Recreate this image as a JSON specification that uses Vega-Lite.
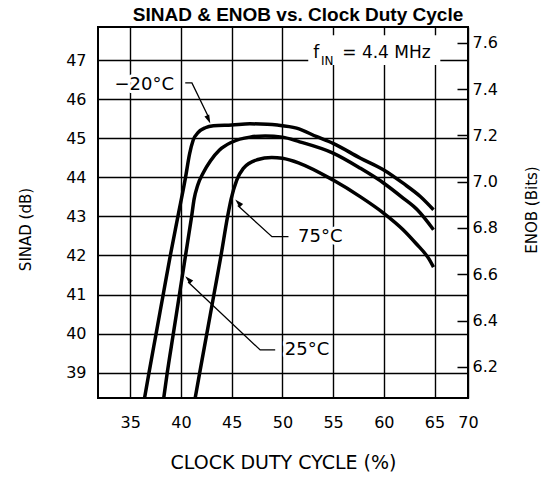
{
  "$schema": "https://vega.github.io/schema/vega-lite/v6.json",
  "width": 370,
  "height": 371,
  "autosize": {"type": "none"},
  "padding": {"left": 98, "top": 27, "right": 77, "bottom": 83},
  "title": {"text": "SINAD & ENOB vs. Clock Duty Cycle", "font": "Liberation Sans", "fontSize": 19, "fontWeight": "bold", "anchor": "middle", "frame": "group", "baseline": "alphabetic", "offset": -13, "dx": 15, "color": "black"},
  "config": {
    "view": {"stroke": "black", "strokeWidth": 2},
    "axis": {"labelFont": "DejaVu Sans", "titleFont": "DejaVu Sans", "labelColor": "black", "titleColor": "black", "titleFontWeight": "normal", "gridColor": "black", "gridWidth": 1.4, "gridOpacity": 1, "domain": false}
  },
  "datasets": {
    "curves": [
      {"temp": "-20", "duty": 36.41, "sinad": 38.35}, {"temp": "-20", "duty": 36.85, "sinad": 39.0}, {"temp": "-20", "duty": 37.55, "sinad": 40.0}, {"temp": "-20", "duty": 38.25, "sinad": 41.0}, {"temp": "-20", "duty": 38.95, "sinad": 42.0}, {"temp": "-20", "duty": 39.7, "sinad": 43.0}, {"temp": "-20", "duty": 40.45, "sinad": 44.0}, {"temp": "-20", "duty": 40.85, "sinad": 44.6}, {"temp": "-20", "duty": 41.2, "sinad": 44.95}, {"temp": "-20", "duty": 41.7, "sinad": 45.15}, {"temp": "-20", "duty": 42.4, "sinad": 45.27}, {"temp": "-20", "duty": 43.2, "sinad": 45.32}, {"temp": "-20", "duty": 45.0, "sinad": 45.34}, {"temp": "-20", "duty": 46.8, "sinad": 45.37}, {"temp": "-20", "duty": 48.5, "sinad": 45.36}, {"temp": "-20", "duty": 49.5, "sinad": 45.34}, {"temp": "-20", "duty": 51.4, "sinad": 45.26}, {"temp": "-20", "duty": 53.4, "sinad": 45.04}, {"temp": "-20", "duty": 55.0, "sinad": 44.87}, {"temp": "-20", "duty": 57.7, "sinad": 44.49}, {"temp": "-20", "duty": 60.0, "sinad": 44.19}, {"temp": "-20", "duty": 61.9, "sinad": 43.85}, {"temp": "-20", "duty": 63.6, "sinad": 43.51}, {"temp": "-20", "duty": 64.9, "sinad": 43.17},
      {"temp": "25", "duty": 38.3, "sinad": 38.35}, {"temp": "25", "duty": 38.65, "sinad": 39.0}, {"temp": "25", "duty": 39.25, "sinad": 40.0}, {"temp": "25", "duty": 39.85, "sinad": 41.0}, {"temp": "25", "duty": 40.45, "sinad": 42.0}, {"temp": "25", "duty": 41.05, "sinad": 43.0}, {"temp": "25", "duty": 41.3, "sinad": 43.45}, {"temp": "25", "duty": 41.65, "sinad": 43.8}, {"temp": "25", "duty": 42.2, "sinad": 44.12}, {"temp": "25", "duty": 42.9, "sinad": 44.42}, {"temp": "25", "duty": 43.8, "sinad": 44.7}, {"temp": "25", "duty": 45.0, "sinad": 44.9}, {"temp": "25", "duty": 46.8, "sinad": 45.03}, {"temp": "25", "duty": 48.3, "sinad": 45.06}, {"temp": "25", "duty": 50.0, "sinad": 45.03}, {"temp": "25", "duty": 51.7, "sinad": 44.91}, {"temp": "25", "duty": 55.0, "sinad": 44.62}, {"temp": "25", "duty": 57.7, "sinad": 44.23}, {"temp": "25", "duty": 60.0, "sinad": 43.85}, {"temp": "25", "duty": 61.9, "sinad": 43.47}, {"temp": "25", "duty": 63.3, "sinad": 43.17}, {"temp": "25", "duty": 64.9, "sinad": 42.66},
      {"temp": "75", "duty": 41.4, "sinad": 38.35}, {"temp": "75", "duty": 41.85, "sinad": 39.0}, {"temp": "75", "duty": 42.55, "sinad": 40.0}, {"temp": "75", "duty": 43.25, "sinad": 41.0}, {"temp": "75", "duty": 43.95, "sinad": 42.0}, {"temp": "75", "duty": 44.6, "sinad": 43.0}, {"temp": "75", "duty": 44.95, "sinad": 43.45}, {"temp": "75", "duty": 45.5, "sinad": 43.93}, {"temp": "75", "duty": 46.15, "sinad": 44.23}, {"temp": "75", "duty": 47.5, "sinad": 44.45}, {"temp": "75", "duty": 48.95, "sinad": 44.51}, {"temp": "75", "duty": 50.0, "sinad": 44.49}, {"temp": "75", "duty": 51.7, "sinad": 44.36}, {"temp": "75", "duty": 55.0, "sinad": 43.93}, {"temp": "75", "duty": 57.7, "sinad": 43.5}, {"temp": "75", "duty": 60.0, "sinad": 43.08}, {"temp": "75", "duty": 61.9, "sinad": 42.66}, {"temp": "75", "duty": 63.2, "sinad": 42.3}, {"temp": "75", "duty": 64.4, "sinad": 41.93}, {"temp": "75", "duty": 64.9, "sinad": 41.7}
    ],
    "leaders": [
      {"label": "-20", "seq": 0, "duty": 40.42, "sinad": 46.42}, {"label": "-20", "seq": 1, "duty": 41.08, "sinad": 46.42}, {"label": "-20", "seq": 2, "duty": 42.7, "sinad": 45.55},
      {"label": "75", "seq": 0, "duty": 50.6, "sinad": 42.48}, {"label": "75", "seq": 1, "duty": 48.97, "sinad": 42.48}, {"label": "75", "seq": 2, "duty": 45.6, "sinad": 43.28},
      {"label": "25", "seq": 0, "duty": 49.29, "sinad": 39.58}, {"label": "25", "seq": 1, "duty": 47.81, "sinad": 39.58}, {"label": "25", "seq": 2, "duty": 40.7, "sinad": 41.32}
    ],
    "tips": [
      {"label": "-20", "duty": 42.89, "sinad": 45.38},
      {"label": "75", "duty": 45.35, "sinad": 43.43},
      {"label": "25", "duty": 40.42, "sinad": 41.47}
    ],
    "labels": [
      {"label": "−20°C", "duty": 36.38, "sinad": 46.36},
      {"label": "75°C", "duty": 53.74, "sinad": 42.48},
      {"label": "25°C", "duty": 52.43, "sinad": 39.58}
    ],
    "box": [
      {"duty": 52.55, "duty2": 65.57, "sinad": 46.88, "sinad2": 47.64}
    ],
    "fin": [
      {"part": "f", "duty": 53.05, "sinad": 47.05},
      {"part": "IN", "duty": 53.8, "sinad": 46.88},
      {"part": "= 4.4 MHz", "duty": 55.9, "sinad": 47.05}
    ],
    "enob": [
      {"enob": 6.2}, {"enob": 7.6}
    ]
  },
  "layer": [
    {
      "encoding": {
        "x": {"field": "duty", "type": "quantitative", "scale": {"domain": [31.82, 68.3], "nice": false, "zero": false},
          "axis": {"values": [35, 40, 45, 50, 55, 60, 65, 68.3], "labelExpr": "datum.value > 66 ? '70' : datum.label", "labelFlush": false, "labelOverlap": false, "ticks": false, "labelPadding": 16, "labelFontSize": 16, "grid": true, "title": "CLOCK DUTY CYCLE (%)", "titleFontSize": 19, "titleY": 55, "titleBaseline": "top"}},
        "y": {"field": "sinad", "type": "quantitative", "scale": {"domain": [38.35, 47.85], "nice": false, "zero": false},
          "axis": {"values": [39, 40, 41, 42, 43, 44, 45, 46, 47], "labelFlush": false, "ticks": false, "labelPadding": 12, "labelFontSize": 16, "grid": true, "title": "SINAD (dB)", "titleFontSize": 15, "titleX": -73, "titleY": 202, "titleAngle": -90, "titleAlign": "center", "titleBaseline": "middle"}}
      },
      "layer": [
        {"data": {"name": "box"}, "mark": {"type": "rect", "color": "white"}, "encoding": {"x2": {"field": "duty2"}, "y2": {"field": "sinad2"}}},
        {"data": {"name": "curves"}, "mark": {"type": "line", "color": "black", "strokeWidth": 3.5, "interpolate": "monotone", "clip": true}, "encoding": {"detail": {"field": "temp"}}},
        {"data": {"name": "leaders"}, "mark": {"type": "line", "color": "black", "strokeWidth": 1.3}, "encoding": {"detail": {"field": "label"}, "order": {"field": "seq"}}},
        {"data": {"name": "tips"}, "transform": [{"filter": "datum.label === '-20'"}], "mark": {"type": "point", "shape": "M0,0L-0.3,1L0.3,1Z", "filled": true, "color": "black", "opacity": 1, "size": 300, "angle": 156.6}},
        {"data": {"name": "tips"}, "transform": [{"filter": "datum.label === '75'"}], "mark": {"type": "point", "shape": "M0,0L-0.3,1L0.3,1Z", "filled": true, "color": "black", "opacity": 1, "size": 300, "angle": 315.5}},
        {"data": {"name": "tips"}, "transform": [{"filter": "datum.label === '25'"}], "mark": {"type": "point", "shape": "M0,0L-0.3,1L0.3,1Z", "filled": true, "color": "black", "opacity": 1, "size": 300, "angle": 314.6}},
        {"data": {"name": "labels"}, "mark": {"type": "text", "font": "DejaVu Sans", "fontSize": 18, "align": "center", "baseline": "middle", "color": "white", "stroke": "white", "strokeWidth": 6, "strokeJoin": "round"}, "encoding": {"text": {"field": "label"}}},
        {"data": {"name": "labels"}, "mark": {"type": "text", "font": "DejaVu Sans", "fontSize": 18, "align": "center", "baseline": "middle", "color": "black"}, "encoding": {"text": {"field": "label"}}},
        {"data": {"name": "fin"}, "transform": [{"filter": "datum.part !== 'IN'"}], "mark": {"type": "text", "font": "DejaVu Sans", "fontSize": 17, "align": "left", "baseline": "alphabetic", "color": "black"}, "encoding": {"text": {"field": "part"}}},
        {"data": {"name": "fin"}, "transform": [{"filter": "datum.part === 'IN'"}], "mark": {"type": "text", "font": "DejaVu Sans", "fontSize": 12, "align": "left", "baseline": "alphabetic", "color": "black"}, "encoding": {"text": {"field": "part"}}}
      ]
    },
    {
      "data": {"name": "enob"},
      "mark": {"type": "point", "opacity": 0},
      "encoding": {
        "y": {"field": "enob", "type": "quantitative", "scale": {"domain": [6.065, 7.669], "nice": false, "zero": false},
          "axis": {"orient": "right", "values": [6.2, 6.4, 6.6, 6.8, 7.0, 7.2, 7.4, 7.6], "format": ".1f", "labelFlush": false, "grid": false, "ticks": true, "tickSize": -11, "tickColor": "black", "tickWidth": 1.5, "labelPadding": 15, "labelFontSize": 16, "title": "ENOB (Bits)", "titleFontSize": 15, "titleAngle": 270, "titleX": 63, "titleY": 182.5, "titleAlign": "center", "titleBaseline": "middle"}}
      }
    }
  ],
  "resolve": {"scale": {"y": "independent"}}
}
